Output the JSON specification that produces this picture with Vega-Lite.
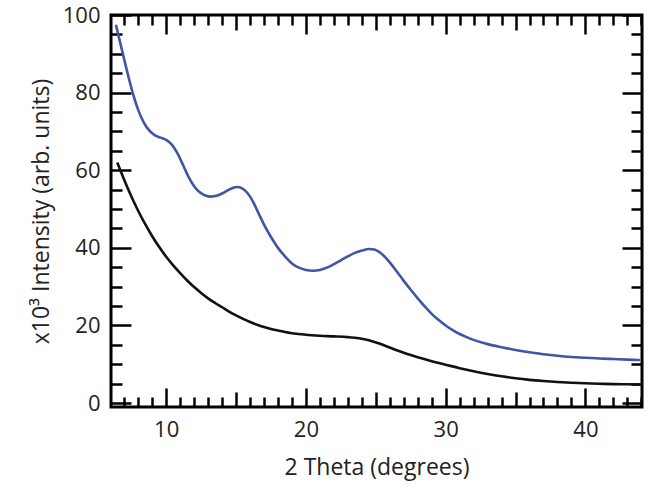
{
  "$schema": "https://vega.github.io/schema/vega-lite/v6.json",
  "autosize": "none",
  "width": 531,
  "height": 392,
  "padding": {"left": 111, "top": 15, "right": 10, "bottom": 87},
  "background": "white",
  "config": {
    "view": {"stroke": "black", "strokeWidth": 3},
    "axis": {"grid": false, "domain": false, "labelFont": "Open Sans", "titleFont": "Open Sans", "labelColor": "#222", "titleColor": "#222", "tickColor": "black", "tickWidth": 2.5, "labelFontWeight": "normal", "titleFontWeight": "normal"}
  },
  "datasets": {
    "xrd": [
      {"theta": 6.4, "intensity": 97.5, "sample": "blue"},
      {"theta": 6.8, "intensity": 91.5, "sample": "blue"},
      {"theta": 7.2, "intensity": 85.5, "sample": "blue"},
      {"theta": 7.6, "intensity": 80.0, "sample": "blue"},
      {"theta": 8.0, "intensity": 75.5, "sample": "blue"},
      {"theta": 8.4, "intensity": 72.3, "sample": "blue"},
      {"theta": 8.8, "intensity": 70.2, "sample": "blue"},
      {"theta": 9.2, "intensity": 69.0, "sample": "blue"},
      {"theta": 9.6, "intensity": 68.4, "sample": "blue"},
      {"theta": 10.0, "intensity": 67.8, "sample": "blue"},
      {"theta": 10.4, "intensity": 66.6, "sample": "blue"},
      {"theta": 10.8, "intensity": 64.4, "sample": "blue"},
      {"theta": 11.2, "intensity": 61.4, "sample": "blue"},
      {"theta": 11.6, "intensity": 58.3, "sample": "blue"},
      {"theta": 12.0, "intensity": 55.9, "sample": "blue"},
      {"theta": 12.4, "intensity": 54.3, "sample": "blue"},
      {"theta": 12.8, "intensity": 53.5, "sample": "blue"},
      {"theta": 13.2, "intensity": 53.2, "sample": "blue"},
      {"theta": 13.6, "intensity": 53.4, "sample": "blue"},
      {"theta": 14.0, "intensity": 54.0, "sample": "blue"},
      {"theta": 14.4, "intensity": 54.8, "sample": "blue"},
      {"theta": 14.8, "intensity": 55.5, "sample": "blue"},
      {"theta": 15.1, "intensity": 55.7, "sample": "blue"},
      {"theta": 15.4, "intensity": 55.4, "sample": "blue"},
      {"theta": 15.8, "intensity": 54.2, "sample": "blue"},
      {"theta": 16.2, "intensity": 52.0, "sample": "blue"},
      {"theta": 16.6, "intensity": 49.0, "sample": "blue"},
      {"theta": 17.0, "intensity": 46.0, "sample": "blue"},
      {"theta": 17.5, "intensity": 42.8, "sample": "blue"},
      {"theta": 18.0, "intensity": 40.0, "sample": "blue"},
      {"theta": 18.5, "intensity": 37.8, "sample": "blue"},
      {"theta": 19.0, "intensity": 36.0, "sample": "blue"},
      {"theta": 19.5, "intensity": 34.9, "sample": "blue"},
      {"theta": 20.0, "intensity": 34.3, "sample": "blue"},
      {"theta": 20.5, "intensity": 34.1, "sample": "blue"},
      {"theta": 21.0, "intensity": 34.3, "sample": "blue"},
      {"theta": 21.5, "intensity": 34.9, "sample": "blue"},
      {"theta": 22.0, "intensity": 35.8, "sample": "blue"},
      {"theta": 22.5, "intensity": 36.8, "sample": "blue"},
      {"theta": 23.0, "intensity": 37.8, "sample": "blue"},
      {"theta": 23.5, "intensity": 38.7, "sample": "blue"},
      {"theta": 24.0, "intensity": 39.3, "sample": "blue"},
      {"theta": 24.5, "intensity": 39.7, "sample": "blue"},
      {"theta": 24.9, "intensity": 39.6, "sample": "blue"},
      {"theta": 25.3, "intensity": 38.8, "sample": "blue"},
      {"theta": 25.7, "intensity": 37.5, "sample": "blue"},
      {"theta": 26.1, "intensity": 35.8, "sample": "blue"},
      {"theta": 26.5, "intensity": 33.9, "sample": "blue"},
      {"theta": 27.0, "intensity": 31.5, "sample": "blue"},
      {"theta": 27.5, "intensity": 29.2, "sample": "blue"},
      {"theta": 28.0, "intensity": 27.0, "sample": "blue"},
      {"theta": 28.5, "intensity": 24.9, "sample": "blue"},
      {"theta": 29.0, "intensity": 23.0, "sample": "blue"},
      {"theta": 29.5, "intensity": 21.4, "sample": "blue"},
      {"theta": 30.0, "intensity": 20.0, "sample": "blue"},
      {"theta": 30.5, "intensity": 18.8, "sample": "blue"},
      {"theta": 31.0, "intensity": 17.8, "sample": "blue"},
      {"theta": 31.5, "intensity": 17.0, "sample": "blue"},
      {"theta": 32.0, "intensity": 16.3, "sample": "blue"},
      {"theta": 33.0, "intensity": 15.2, "sample": "blue"},
      {"theta": 34.0, "intensity": 14.4, "sample": "blue"},
      {"theta": 35.0, "intensity": 13.7, "sample": "blue"},
      {"theta": 36.0, "intensity": 13.1, "sample": "blue"},
      {"theta": 37.0, "intensity": 12.6, "sample": "blue"},
      {"theta": 38.0, "intensity": 12.2, "sample": "blue"},
      {"theta": 39.0, "intensity": 11.9, "sample": "blue"},
      {"theta": 40.0, "intensity": 11.7, "sample": "blue"},
      {"theta": 41.0, "intensity": 11.5, "sample": "blue"},
      {"theta": 42.0, "intensity": 11.35, "sample": "blue"},
      {"theta": 43.0, "intensity": 11.2, "sample": "blue"},
      {"theta": 43.9, "intensity": 11.1, "sample": "blue"},
      {"theta": 6.5, "intensity": 62.0, "sample": "black"},
      {"theta": 7.0, "intensity": 57.5, "sample": "black"},
      {"theta": 7.5, "intensity": 53.3, "sample": "black"},
      {"theta": 8.0, "intensity": 49.5, "sample": "black"},
      {"theta": 8.5, "intensity": 46.1, "sample": "black"},
      {"theta": 9.0, "intensity": 43.0, "sample": "black"},
      {"theta": 9.5, "intensity": 40.2, "sample": "black"},
      {"theta": 10.0, "intensity": 37.7, "sample": "black"},
      {"theta": 10.5, "intensity": 35.5, "sample": "black"},
      {"theta": 11.0, "intensity": 33.5, "sample": "black"},
      {"theta": 11.5, "intensity": 31.6, "sample": "black"},
      {"theta": 12.0, "intensity": 29.9, "sample": "black"},
      {"theta": 12.5, "intensity": 28.4, "sample": "black"},
      {"theta": 13.0, "intensity": 27.0, "sample": "black"},
      {"theta": 13.5, "intensity": 25.8, "sample": "black"},
      {"theta": 14.0, "intensity": 24.7, "sample": "black"},
      {"theta": 14.5, "intensity": 23.6, "sample": "black"},
      {"theta": 15.0, "intensity": 22.6, "sample": "black"},
      {"theta": 15.5, "intensity": 21.7, "sample": "black"},
      {"theta": 16.0, "intensity": 20.9, "sample": "black"},
      {"theta": 16.5, "intensity": 20.2, "sample": "black"},
      {"theta": 17.0, "intensity": 19.6, "sample": "black"},
      {"theta": 17.5, "intensity": 19.1, "sample": "black"},
      {"theta": 18.0, "intensity": 18.7, "sample": "black"},
      {"theta": 18.5, "intensity": 18.3, "sample": "black"},
      {"theta": 19.0, "intensity": 18.0, "sample": "black"},
      {"theta": 19.5, "intensity": 17.8, "sample": "black"},
      {"theta": 20.0, "intensity": 17.6, "sample": "black"},
      {"theta": 21.0, "intensity": 17.35, "sample": "black"},
      {"theta": 22.0, "intensity": 17.2, "sample": "black"},
      {"theta": 23.0, "intensity": 17.0, "sample": "black"},
      {"theta": 23.8, "intensity": 16.7, "sample": "black"},
      {"theta": 24.5, "intensity": 16.2, "sample": "black"},
      {"theta": 25.2, "intensity": 15.4, "sample": "black"},
      {"theta": 25.8, "intensity": 14.6, "sample": "black"},
      {"theta": 26.5, "intensity": 13.6, "sample": "black"},
      {"theta": 27.2, "intensity": 12.7, "sample": "black"},
      {"theta": 28.0, "intensity": 11.8, "sample": "black"},
      {"theta": 29.0, "intensity": 10.8, "sample": "black"},
      {"theta": 30.0, "intensity": 9.9, "sample": "black"},
      {"theta": 31.0, "intensity": 9.0, "sample": "black"},
      {"theta": 32.0, "intensity": 8.2, "sample": "black"},
      {"theta": 33.0, "intensity": 7.5, "sample": "black"},
      {"theta": 34.0, "intensity": 6.9, "sample": "black"},
      {"theta": 35.0, "intensity": 6.4, "sample": "black"},
      {"theta": 36.0, "intensity": 6.0, "sample": "black"},
      {"theta": 37.0, "intensity": 5.7, "sample": "black"},
      {"theta": 38.0, "intensity": 5.45, "sample": "black"},
      {"theta": 39.0, "intensity": 5.25, "sample": "black"},
      {"theta": 40.0, "intensity": 5.1, "sample": "black"},
      {"theta": 41.0, "intensity": 5.0, "sample": "black"},
      {"theta": 42.0, "intensity": 4.9, "sample": "black"},
      {"theta": 43.0, "intensity": 4.85, "sample": "black"},
      {"theta": 43.9, "intensity": 4.8, "sample": "black"}
    ]
  },
  "data": {"name": "xrd"},
  "resolve": {"axis": {"x": "independent", "y": "independent"}},
  "layer": [
    {
      "mark": {"type": "line", "strokeWidth": 2.6, "interpolate": "monotone"},
      "encoding": {
        "x": {"field": "theta", "type": "quantitative", "scale": {"domain": [6.05, 44.05], "nice": false, "zero": false},
              "axis": {"orient": "bottom", "values": [10, 20, 30, 40], "ticks": false, "labelPadding": 12, "labelFontSize": 22, "title": "2 Theta (degrees)", "titleFontSize": 23, "titlePadding": 16}},
        "y": {"field": "intensity", "type": "quantitative", "scale": {"domain": [-1, 100], "nice": false, "zero": false},
              "axis": {"orient": "left", "values": [0, 20, 40, 60, 80, 100], "ticks": false, "labelPadding": 11, "labelFontSize": 22, "title": "x10³ Intensity (arb. units)", "titleFontSize": 23, "titlePadding": 9}},
        "color": {"field": "sample", "type": "nominal", "scale": {"domain": ["blue", "black"], "range": ["#4055a6", "#111111"]}, "legend": null},
        "detail": {"field": "sample"}
      }
    },
    {
      "mark": {"type": "line", "strokeOpacity": 0},
      "encoding": {
        "x": {"field": "theta", "type": "quantitative", "axis": {"orient": "bottom", "values": [10, 20, 30, 40], "labels": false, "title": null, "tickSize": -19}},
        "y": {"field": "intensity", "type": "quantitative", "axis": {"orient": "left", "values": [0, 20, 40, 60, 80, 100], "labels": false, "title": null, "tickSize": -20}},
        "detail": {"field": "sample"}
      }
    },
    {
      "mark": {"type": "line", "strokeOpacity": 0},
      "encoding": {
        "x": {"field": "theta", "type": "quantitative", "axis": {"orient": "top", "values": [10, 20, 30, 40], "labels": false, "title": null, "tickSize": -19}},
        "y": {"field": "intensity", "type": "quantitative", "axis": {"orient": "right", "values": [0, 20, 40, 60, 80, 100], "labels": false, "title": null, "tickSize": -20}},
        "detail": {"field": "sample"}
      }
    },
    {
      "mark": {"type": "line", "strokeOpacity": 0},
      "encoding": {
        "x": {"field": "theta", "type": "quantitative", "axis": {"orient": "bottom", "values": [15, 25, 35], "labels": false, "title": null, "tickSize": -15}},
        "y": {"field": "intensity", "type": "quantitative", "axis": {"orient": "left", "values": [5, 10, 15, 25, 30, 35, 45, 50, 55, 65, 70, 75, 85, 90, 95], "labels": false, "title": null, "tickSize": -11}},
        "detail": {"field": "sample"}
      }
    },
    {
      "mark": {"type": "line", "strokeOpacity": 0},
      "encoding": {
        "x": {"field": "theta", "type": "quantitative", "axis": {"orient": "top", "values": [15, 25, 35], "labels": false, "title": null, "tickSize": -15}},
        "y": {"field": "intensity", "type": "quantitative", "axis": {"orient": "right", "values": [5, 10, 15, 25, 30, 35, 45, 50, 55, 65, 70, 75, 85, 90, 95], "labels": false, "title": null, "tickSize": -11}},
        "detail": {"field": "sample"}
      }
    },
    {
      "mark": {"type": "line", "strokeOpacity": 0},
      "encoding": {
        "x": {"field": "theta", "type": "quantitative", "axis": {"orient": "bottom", "values": [7, 8, 9, 11, 12, 13, 14, 16, 17, 18, 19, 21, 22, 23, 24, 26, 27, 28, 29, 31, 32, 33, 34, 36, 37, 38, 39, 41, 42, 43, 44], "labels": false, "title": null, "tickSize": -10}},
        "y": {"field": "intensity", "type": "quantitative", "axis": null},
        "detail": {"field": "sample"}
      }
    },
    {
      "mark": {"type": "line", "strokeOpacity": 0},
      "encoding": {
        "x": {"field": "theta", "type": "quantitative", "axis": {"orient": "top", "values": [7, 8, 9, 11, 12, 13, 14, 16, 17, 18, 19, 21, 22, 23, 24, 26, 27, 28, 29, 31, 32, 33, 34, 36, 37, 38, 39, 41, 42, 43, 44], "labels": false, "title": null, "tickSize": -10}},
        "y": {"field": "intensity", "type": "quantitative", "axis": null},
        "detail": {"field": "sample"}
      }
    }
  ]
}
